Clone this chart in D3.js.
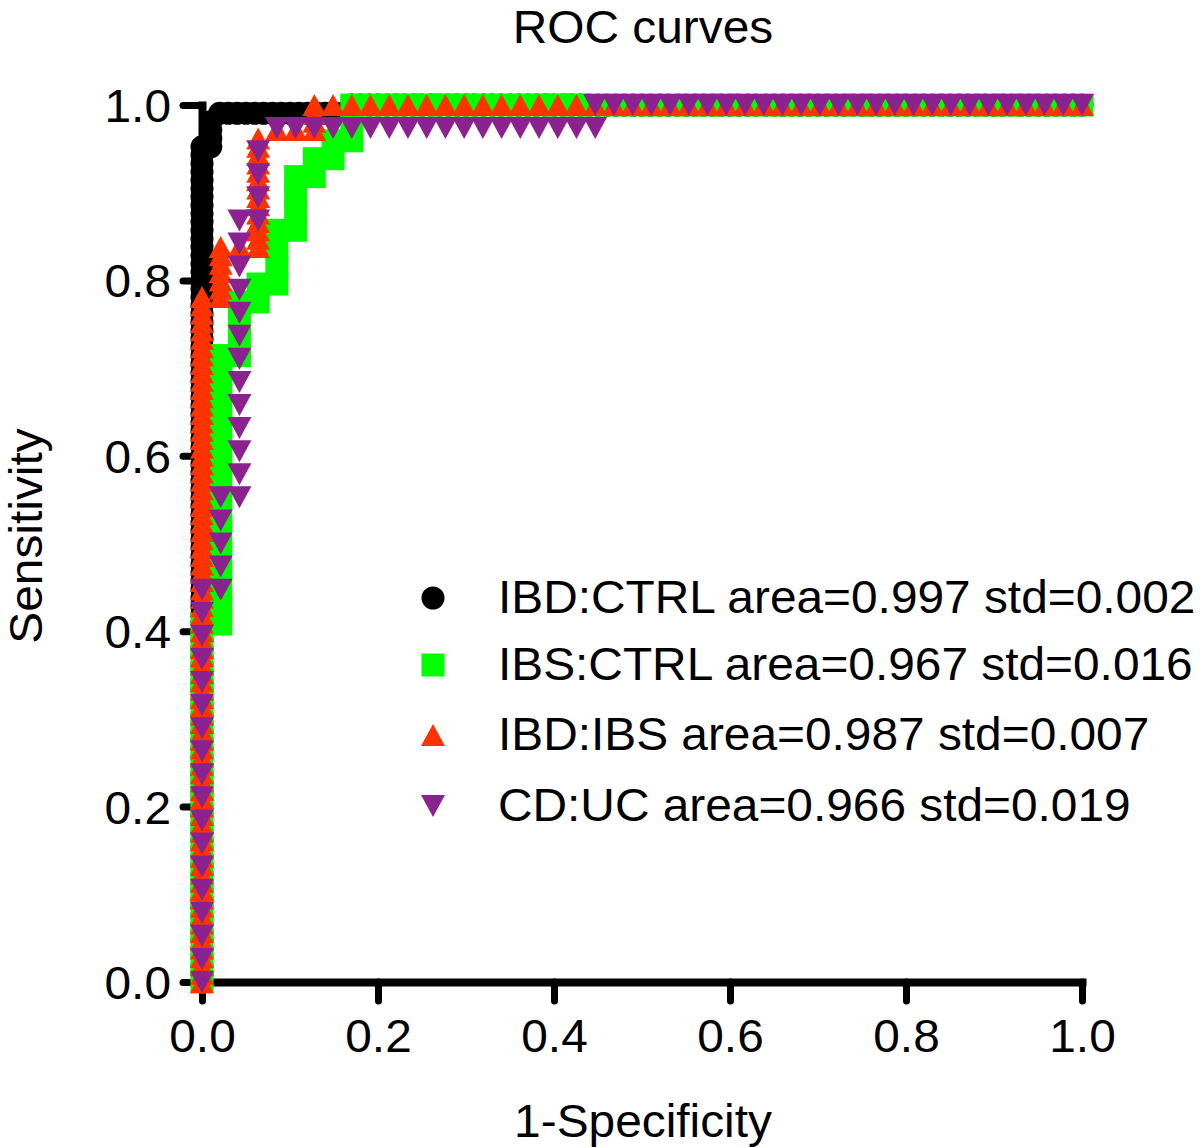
<!DOCTYPE html>
<html><head><meta charset="utf-8">
<script src="https://cdn.jsdelivr.net/npm/d3@7"></script>
<style>
body{margin:0;background:#fff}
svg{display:block}
text{font-family:"Liberation Sans",Arial,Helvetica,sans-serif;fill:#000}
</style>
</head><body>
<svg id="c" width="1200" height="1147"></svg>
<script>
// ---------- text ----------
const chartTitle = "ROC curves";
const xLabel = "1-Specificity";
const yLabel = "Sensitivity";
const tickValues = [0, 0.2, 0.4, 0.6, 0.8, 1.0];
const tickLabels = ["0.0", "0.2", "0.4", "0.6", "0.8", "1.0"];

// ---------- series ----------
const seriesNames = ["IBD:CTRL", "IBS:CTRL", "IBD:IBS", "CD:UC"];
const seriesArea  = [0.997, 0.967, 0.987, 0.966];
const seriesStd   = [0.002, 0.016, 0.007, 0.019];
const seriesColor = ["#000000", "#00ff00", "#ff3300", "#8c2290"];
const seriesShape = ["circle", "square", "triangleUp", "triangleDown"];
// group sizes (negatives = x denominator, positives = y denominator)
const seriesNeg = [100, 47, 47, 47];
const seriesPos = [105, 49, 105, 38];

// IBD:CTRL  (false-positive count, true-positive count per cutoff)
const ibdCtrlFP = [
0,0,0,0,0,0,0,0,0,0, 0,0,0,0,0,0,0,0,0,0, 0,0,0,0,0,0,0,0,0,0, 0,0,0,0,0,0,0,0,0,0,
0,0,0,0,0,0,0,0,0,0, 0,0,0,0,0,0,0,0,0,0, 0,0,0,0,0,0,0,0,0,0, 0,0,0,0,0,0,0,0,0,0,
0,0,0,0,0,0,0,0,0,0, 0,0,0,0,0,0,0,0,0,0, 0,
1,1,1,1,
2,3,4,5,6,7,8,9,10,11,12,13,14,15,16,17,
17,18,19,20,21,22,23,24,25,26,27,28,29,30,31,32,33,34,35,36,37,38,39,
40,41,42,43,44,45,46,47,48,49,50,51,52,53,54,55,56,57,58,59,60,61,62,63,64,65,66,67,68,69,
70,71,72,73,74,75,76,77,78,79,80,81,82,83,84,85,86,87,88,89,90,91,92,93,94,95,96,97,98,99,100
];
const ibdCtrlTP = [
0,1,2,3,4,5,6,7,8,9,10,11,12,13,14,15,16,17,18,19,20,21,22,23,24,25,26,27,28,29,30,31,32,33,34,35,36,37,38,39,
40,41,42,43,44,45,46,47,48,49,50,51,52,53,54,55,56,57,58,59,60,61,62,63,64,65,66,67,68,69,70,71,72,73,74,75,76,77,78,79,
80,81,82,83,84,85,86,87,88,89,90,91,92,93,94,95,96,97,98,99,100,
100,101,102,103,
104,104,104,104,104,104,104,104,104,104,104,104,104,104,104,104,
105,105,105,105,105,105,105,105,105,105, 105,105,105,105,105,105,105,105,105,105,
105,105,105,105,105,105,105,105,105,105, 105,105,105,105,105,105,105,105,105,105,
105,105,105,105,105,105,105,105,105,105, 105,105,105,105,105,105,105,105,105,105,
105,105,105,105,105,105,105,105,105,105, 105,105,105,105,105,105,105,105,105,105,
105,105,105,105
];

// IBS:CTRL
const ibsCtrlFP = [
0,0,0,0,0,0,0,0,0,0, 0,0,0,0,0,0,0,0,0,0, 0,
1,1,1,1,1,1,1,1,1,1,1,1,1,1,1,1,
2,2,2,2, 3,3, 4,4,4,4, 5,5,5,5, 6,6, 7,7, 8,8,8,
9,10,11,12,13,14,15,16,17,18,19,20,21,22,23,24,25,26,27,28,29,30,31,32,33,34,35,36,37,38,39,40,41,42,43,44,45,46,47
];
const ibsCtrlTP = [
0,1,2,3,4,5,6,7,8,9,10,11,12,13,14,15,16,17,18,19,20,
20,21,22,23,24,25,26,27,28,29,30,31,32,33,34,35,
35,36,37,38, 38,39, 39,40,41,42, 42,43,44,45, 45,46, 46,47, 47,48,49,
49,49,49,49,49,49,49,49,49,49, 49,49,49,49,49,49,49,49,49,49, 49,49,49,49,49,49,49,49,49,49, 49,49,49,49,49,49,49,49,49
];

// IBD:IBS
const ibdIbsFP = [
0,0,0,0,0,0,0,0,0,0, 0,0,0,0,0,0,0,0,0,0, 0,0,0,0,0,0,0,0,0,0, 0,0,0,0,0,0,0,0,0,0,
0,0,0,0,0,0,0,0,0,0, 0,0,0,0,0,0,0,0,0,0, 0,0,0,0,0,0,0,0,0,0, 0,0,0,0,0,0,0,0,0,0, 0,0,0,
1,1,1,1,1,1,1,
2,
3,3,3,3,3,3,3,3,3,3,3,3,3,3,
4,5,
6,6,6,6,
7,8,9,10,11,12,13,14,15,16,17,18,19,20,21,22,23,24,25,26,27,28,29,30,31,32,33,34,35,36,37,38,39,40,41,42,43,44,45,46,47
];
const ibdIbsTP = [
0,1,2,3,4,5,6,7,8,9,10,11,12,13,14,15,16,17,18,19,20,21,22,23,24,25,26,27,28,29,30,31,32,33,34,35,36,37,38,39,
40,41,42,43,44,45,46,47,48,49,50,51,52,53,54,55,56,57,58,59,60,61,62,63,64,65,66,67,68,69,70,71,72,73,74,75,76,77,78,79,
80,81,82,
82,83,84,85,86,87,88,
88,
88,89,90,91,92,93,94,95,96,97,98,99,100,101,
102,102,
102,103,104,105,
105,105,105,105,105,105,105,105,105,105, 105,105,105,105,105,105,105,105,105,105,
105,105,105,105,105,105,105,105,105,105, 105,105,105,105,105,105,105,105,105,105, 105
];

// CD:UC
const cdUcFP = [
0,0,0,0,0,0,0,0,0,0,0,0,0,0,0,0,0,0,
1,1,1,1,1,
2,2,2,2,2,2,2,2,2,2,2,2,2,
3,3,3,3,
4,5,6,7,8,9,10,11,12,13,14,15,16,17,18,19,20,21,
21,22,23,24,25,26,27,28,29,30,31,32,33,34,35,36,37,38,39,40,41,42,43,44,45,46,47
];
const cdUcTP = [
0,1,2,3,4,5,6,7,8,9,10,11,12,13,14,15,16,17,
17,18,19,20,21,
21,22,23,24,25,26,27,28,29,30,31,32,33,
33,34,35,36,
37,37,37,37,37,37,37,37,37,37,37,37,37,37,37,37,37,37,
38,38,38,38,38,38,38,38,38,38,38,38,38,38,38,38,38,38,38,38,38,38,38,38,38,38,38
];

const seriesFP = [ibdCtrlFP, ibsCtrlFP, ibdIbsFP, cdUcFP];
const seriesTP = [ibdCtrlTP, ibsCtrlTP, ibdIbsTP, cdUcTP];

// ---------- drawing ----------
const svg = d3.select("#c");
const x = d3.scaleLinear().domain([0, 1]).range([202, 1082]);
const y = d3.scaleLinear().domain([0, 1]).range([982, 105]);
const FS = 46;
const SX = 1.04; // slight horizontal stretch of the reference lettering

function shapePath(shape) {
  const w = 24, h = 22, s = 23;
  if (shape === "triangleUp") return `M0,${-h/2}L${w/2},${h/2}L${-w/2},${h/2}Z`;
  if (shape === "triangleDown") return `M0,${h/2}L${w/2},${-h/2}L${-w/2},${-h/2}Z`;
  if (shape === "square") return `M${-s/2},${-s/2}h${s}v${s}h${-s}Z`;
  const r = 11.5;
  return `M${r},0A${r},${r} 0 1,1 ${-r},0A${r},${r} 0 1,1 ${r},0Z`;
}

// axes
const gx = svg.append("g").attr("transform", "translate(0,982)")
  .call(d3.axisBottom(x).tickValues(tickValues).tickFormat((d, i) => tickLabels[i]).tickSize(19).tickSizeOuter(0));
gx.select(".domain").attr("stroke", "#000").attr("stroke-width", 8).attr("stroke-linecap", "square");
gx.selectAll(".tick line").attr("stroke", "#000").attr("stroke-width", 7).attr("stroke-linecap", "round");
gx.selectAll(".tick text").attr("y", 0).attr("dy", 0).attr("font-size", FS)
  .attr("transform", `translate(0,70) scale(${SX},1)`);

const gy = svg.append("g").attr("transform", "translate(202,0)")
  .call(d3.axisLeft(y).tickValues(tickValues).tickFormat((d, i) => tickLabels[i]).tickSize(19).tickSizeOuter(0));
gy.select(".domain").attr("stroke", "#000").attr("stroke-width", 8).attr("stroke-linecap", "square");
gy.selectAll(".tick line").attr("stroke", "#000").attr("stroke-width", 7).attr("stroke-linecap", "round");
gy.selectAll(".tick text").attr("x", 0).attr("dy", "0.36em").attr("font-size", FS)
  .attr("transform", `translate(-31,0) scale(${SX},1)`);

// markers
const plot = svg.append("g");
seriesNames.forEach((name, k) => {
  const n = Math.min(seriesFP[k].length, seriesTP[k].length);
  const pts = seriesFP[k].slice(0, n).map((fp, i) => ({ fx: fp / seriesNeg[k], ty: seriesTP[k][i] / seriesPos[k] }));
  plot.append("g").selectAll("path").data(pts).join("path")
    .attr("transform", d => `translate(${x(d.fx)},${y(d.ty)})`)
    .attr("d", shapePath(seriesShape[k]))
    .attr("fill", seriesColor[k]);
});

// titles
svg.append("text").attr("transform", `translate(643,43) scale(${SX},1)`).attr("text-anchor", "middle").attr("font-size", FS).text(chartTitle);
svg.append("text").attr("transform", `translate(643,1137) scale(${SX},1)`).attr("text-anchor", "middle").attr("font-size", FS).text(xLabel);
svg.append("text").attr("transform", `translate(42,536) rotate(-90) scale(${SX},1)`).attr("text-anchor", "middle").attr("font-size", FS).text(yLabel);

// legend
const legendY = [598, 665, 735, 806];
const lg = svg.append("g");
seriesNames.forEach((name, k) => {
  lg.append("path").attr("transform", `translate(433,${legendY[k]})`).attr("d", shapePath(seriesShape[k])).attr("fill", seriesColor[k]);
  lg.append("text").attr("transform", `translate(498,${legendY[k] + 15}) scale(${SX},1)`).attr("font-size", FS)
    .text(`${name} area=${seriesArea[k].toFixed(3)} std=${seriesStd[k].toFixed(3)}`);
});
</script>
</body></html>
